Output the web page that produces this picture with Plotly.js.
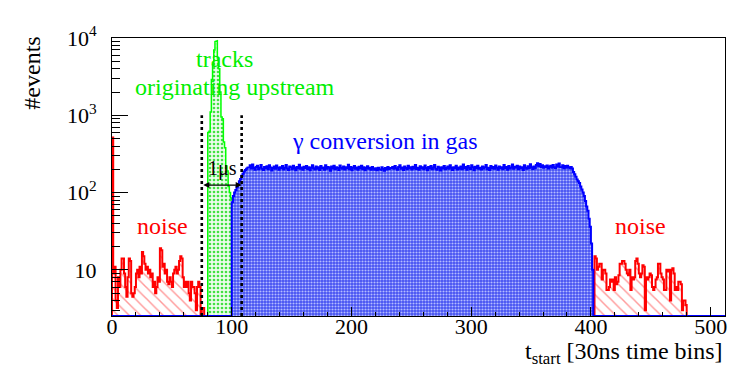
<!DOCTYPE html>
<html>
<head>
<meta charset="utf-8">
<script src="https://cdn.plot.ly/plotly-3.0.1.min.js"></script>
<style>
  html, body { margin: 0; padding: 0; background: #fff; }
  #plot { width: 747px; height: 371px; }
</style>
</head>
<body>
<div id="plot"></div>
<script>
// counts per 30 ns time bin
var noiseLeftStart = 0;
var noiseLeft = [515,
    9, 11, 4, 3.2, 8, 6, 10,
    14, 14, 9, 6, 4.5, 8, 14, 13,
    5, 4.5, 5, 6, 9, 10, 8, 11, 9,
    17, 15, 12, 10, 11, 9, 10, 8, 9,
    6, 7, 5, 6, 8, 7, 19, 18,
    11, 12, 9, 10, 7, 6.5, 8, 7, 6, 9,
    10, 11, 9, 10, 13, 15, 14,
    8, 6, 7, 6, 7, 5, 4, 7, 6, 6, 5,
    3, 6, 7, 6, 0, 3.2, 3.2, 0];

var noiseRightStart = 403;
var noiseRight = [15, 14, 10, 11, 12, 12, 7.5, 10, 10, 9,
    5.5, 5.5, 6, 7.5, 7, 7.5, 5.5, 8, 6.5, 7,
    8.5, 12, 12, 13, 13, 12, 10, 9, 8.5, 10,
    5.5, 8, 7.5, 8, 13, 14, 12, 9, 8, 9,
    11.5, 11, 3, 8, 7.5, 8, 9, 8.5, 6, 5.5,
    6, 7.5, 8, 12, 12, 9, 8, 7.5, 5.5, 5.5,
    10, 9.5, 10, 4, 10, 10.5, 9, 5.5, 6, 5.5,
    7, 7, 6.5, 3, 4, 4, 3.5];

var tracksStart = 80;
var tracks = [600, 620, 1100, 2900, 4500, 7000, 9000, 9200, 5500, 4000,
    2000, 950, 900, 450, 380, 220, 190, 120, 100, 85, 80];

var gammaStart = 100;
var gammaConv = [75, 90, 100, 108, 118, 128, 140, 150, 165, 175, 188, 196, 203, 210,
    212, 225, 205, 230, 208, 198, 215, 222, 201, 210, 228, 204, 196, 214, 207,
    219, 200, 226, 211, 193, 208, 217, 203, 224, 209, 198, 213, 206, 221, 199,
    210, 227, 205, 196, 218, 212, 201, 223, 208, 195, 214, 206, 229, 203, 211,
    197, 216, 208, 221, 202, 213, 194, 209, 225, 207, 199, 218, 204, 212, 196,
    220, 206, 211, 198, 226, 203, 215, 209, 192, 217, 205, 222, 200, 213, 208,
    196, 224, 210, 203, 218, 199, 212, 207, 229, 201, 214, 195, 209, 220, 204,
    211, 198, 216, 206, 223, 200, 213, 194, 208, 219, 203, 210, 197, 215, 205,
    198, 207, 194, 210, 200, 196, 212, 203, 192, 208, 199, 214, 202, 208, 209,
    215, 203, 221, 207, 198, 214, 226, 204, 211, 196, 218, 208, 201, 223, 206,
    212, 199, 216, 205, 228, 202, 210, 197, 219, 207, 213, 200, 224, 208, 195,
    214, 206, 220, 201, 211, 227, 204, 198, 216, 209, 193, 212, 205, 221, 200,
    208, 217, 203, 225, 210, 196, 213, 207, 222, 199, 211, 204, 218, 201, 230,
    206, 214, 198, 220, 209, 202, 226, 212, 195, 216, 207, 223, 204, 210, 199,
    218, 205, 213, 228, 201, 209, 196, 221, 207, 215, 203, 224, 210, 198, 217,
    206, 212, 200, 227, 208, 214, 197, 220, 205, 211, 230, 203, 216, 209, 222,
    201, 218, 207, 213, 196, 225, 210, 204, 219, 208, 232, 212, 202, 217, 206,
    228, 240, 221, 235, 214, 226, 209, 219, 212, 224, 205, 216, 222, 210, 227,
    213, 208, 231, 218, 237, 215, 211, 226, 206, 220, 209, 223, 212, 207, 215,
    205, 185, 172, 160, 148, 140, 133, 120, 110, 100, 90, 78, 66, 58, 46, 36, 22, 10];

var nBins = 512;
var gateX = [75, 108.3];   // 1 us = 33.3 bins
var gateTop = 1000;
var arrowLevel = 125;

var yMin = 2.53;

// put the pieces into one 0..512 histogram
function fullHist(parts) {
    var h = [];
    for (var i = 0; i < nBins; i++) h.push(0);
    parts.forEach(function (p) {
        p.values.forEach(function (v, i) { h[p.start + i] = v; });
    });
    return h;
}

// ROOT-like step outline, empty bins sit on the frame bottom
function steps(h) {
    var x = [0], y = [yMin];
    for (var i = 0; i < h.length; i++) {
        var v = h[i] > 0 ? h[i] : yMin;
        x.push(i, i + 1);
        y.push(v, v);
    }
    x.push(h.length);
    y.push(yMin);
    return {x: x, y: y};
}

var sNoise = steps(fullHist([{start: noiseLeftStart, values: noiseLeft},
                             {start: noiseRightStart, values: noiseRight}]));
var sTracks = steps(fullHist([{start: tracksStart, values: tracks}]));
var sGamma = steps(fullHist([{start: gammaStart, values: gammaConv}]));

var traceTracks = {
    x: sTracks.x, y: sTracks.y, mode: 'lines', fill: 'toself',
    line: {color: '#00ff00', width: 1.5},
    fillpattern: {shape: '.', bgcolor: '#ecfdec', fgcolor: '#44e044', size: 4, solidity: 0.35},
    hoverinfo: 'skip'
};
var traceNoise = {
    x: sNoise.x, y: sNoise.y, mode: 'lines', fill: 'toself',
    line: {color: '#ff0000', width: 2},
    fillpattern: {shape: '\\', bgcolor: 'white', fgcolor: '#ff9a9a', size: 8, solidity: 0.18},
    hoverinfo: 'skip'
};
var traceGamma = {
    x: sGamma.x, y: sGamma.y, mode: 'lines', fill: 'toself',
    line: {color: '#0000ff', width: 2},
    fillpattern: {shape: '.', bgcolor: '#4450f2', fgcolor: '#b4bcff', size: 3, solidity: 0.4},
    hoverinfo: 'skip'
};

var gateTraces = gateX.map(function (gx) {
    return {
        x: [gx, gx], y: [yMin, gateTop], mode: 'lines',
        line: {color: 'black', width: 2.6, dash: 'dot'},
        hoverinfo: 'skip'
    };
});

var minorY = [];
[1, 10, 100, 1000].forEach(function (d) {
    for (var k = 2; k <= 9; k++) minorY.push(k * d);
});

var serif = '"Liberation Serif", "Times New Roman", serif';

function label(x, yPaper, text, size, color) {
    return {xref: 'x', yref: 'paper', x: x, y: yPaper, xanchor: 'center', yanchor: 'middle',
            text: text, showarrow: false, font: {family: serif, size: size, color: color}};
}

var layout = {
    width: 747, height: 371,
    margin: {l: 112, r: 22, t: 38, b: 55},
    paper_bgcolor: 'white', plot_bgcolor: 'white',
    font: {family: serif, size: 22, color: 'black'},
    showlegend: false,
    xaxis: {
        range: [0, nBins], tick0: 0, dtick: 100,
        ticks: 'inside', ticklen: 9, tickcolor: 'black', tickwidth: 1,
        minor: {dtick: 20, ticks: 'inside', ticklen: 4, tickcolor: 'black'},
        showline: true, mirror: true, linecolor: 'black', linewidth: 1,
        showgrid: false, zeroline: false,
        ticklabelstandoff: -9,
        tickfont: {family: serif, size: 22}
    },
    yaxis: {
        type: 'log', range: [Math.log10(yMin), 4],
        tickvals: [10, 100, 1000, 10000],
        ticktext: ['10', '10<sup>2</sup>', '10<sup>3</sup>', '10<sup>4</sup>'],
        ticks: 'inside', ticklen: 16, tickcolor: 'black', tickwidth: 1,
        minor: {tickvals: minorY, ticks: 'inside', ticklen: 8, tickcolor: 'black'},
        showline: true, mirror: true, linecolor: 'black', linewidth: 1,
        showgrid: false, zeroline: false,
        ticklabelstandoff: 10,
        tickfont: {family: serif, size: 22}
    },
    annotations: [
        label(94.2, 0.923, 'tracks', 24, '#00ee00'),
        label(102.9, 0.822, 'originating upstream', 24, '#00ee00'),
        label(227.7, 0.628, '\u03b3 conversion in gas', 24, '#0000ff'),
        label(42, 0.3255, 'noise', 24, '#ff0000'),
        label(441.8, 0.3255, 'noise', 24, '#ff0000'),
        label(92.5, 0.531, '1\u03bcs', 20, 'black'),
        {xref: 'x', yref: 'y', axref: 'x', ayref: 'y',
         x: gateX[1], y: Math.log10(arrowLevel), ax: gateX[0], ay: Math.log10(arrowLevel),
         text: '', showarrow: true, arrowside: 'end+start', arrowhead: 2, startarrowhead: 2,
         arrowsize: 1, startarrowsize: 1, arrowwidth: 1.2, arrowcolor: 'black'},
        {xref: 'paper', yref: 'paper', x: -0.132, y: 0.872, xanchor: 'center', yanchor: 'middle',
         text: '#events', textangle: -90,
         showarrow: false, font: {family: serif, size: 24, color: 'black'}},
        {xref: 'paper', yref: 'paper', x: 1, xanchor: 'right', y: -0.132, yanchor: 'middle',
         text: 't<sub>start</sub> [30ns time bins]', showarrow: false,
         font: {family: serif, size: 24, color: 'black'}}
    ]
};

Plotly.newPlot('plot', [traceTracks, traceNoise, traceGamma].concat(gateTraces), layout,
    {displayModeBar: false, staticPlot: true});
</script>
</body>
</html>
